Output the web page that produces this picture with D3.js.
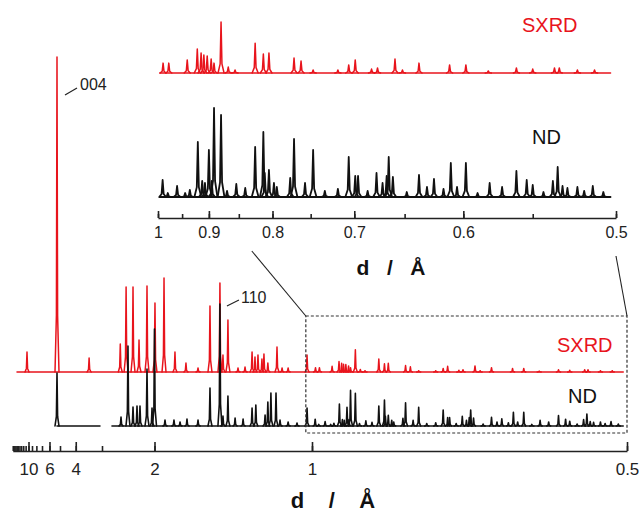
<!DOCTYPE html>
<html>
<head>
<meta charset="utf-8">
<script src="https://cdn.jsdelivr.net/npm/d3@7"></script>
<style>
  body { margin: 0; background: #fff; }
  text { font-family: "Liberation Sans", Arial, sans-serif; }
</style>
</head>
<body>
<svg width="639" height="516"></svg>
<script>
// peak positions (d, in Å) and heights (arbitrary units)
var sxrdPeakD = [10.5, 5.25, 3.42, 2.555, 2.44, 2.316, 2.218, 2.1, 1.994, 1.886, 1.77, 1.667, 1.567,
  1.479, 1.413, 1.394, 1.364, 1.307, 1.27, 1.235, 1.221, 1.207, 1.189, 1.18, 1.163, 1.125, 1.105, 1.082, 1.016,
  0.989, 0.977, 0.940, 0.921, 0.914, 0.909, 0.903, 0.896, 0.891, 0.879, 0.867, 0.856, 0.825, 0.813, 0.805,
  0.771, 0.762, 0.747, 0.718, 0.706, 0.699, 0.682, 0.676, 0.659, 0.652, 0.637, 0.611, 0.598, 0.581, 0.561,
  0.550, 0.536, 0.533, 0.522, 0.512];
var sxrdPeakI = [20, 315, 14, 28, 85, 85, 32, 86, 69, 94, 20, 9, 4,
  66, 89, 17, 52, 4, 5, 20, 15, 17, 13, 18, 9, 25, 4, 4, 17,
  4.3, 4.3, 5.7, 10.4, 8.7, 7.8, 7.4, 6.1, 4.3, 22.2, 2.6, 1.3, 13, 8.3, 8.7,
  6.5, 5.2, 1.3, 1.3, 3.5, 5.7, 1.7, 2.2, 6.1, 1.3, 4.3, 3.5, 3.5, 0.9, 2.2,
  1.7, 2.2, 2.2, 1.3, 1.3];

var ndPeakD = [5.25, 2.54, 2.405, 2.316, 2.25, 2.203, 2.1, 2.032, 2.0, 1.875, 1.78, 1.721, 1.658, 1.567,
  1.479, 1.413, 1.394, 1.364, 1.323, 1.28, 1.235, 1.217, 1.175, 1.163, 1.15, 1.129, 1.113, 1.082, 1.05, 1.016,
  0.990, 0.979, 0.960, 0.944, 0.935, 0.920, 0.912, 0.907, 0.900, 0.895, 0.891, 0.879, 0.869, 0.854, 0.840,
  0.825, 0.813, 0.811, 0.805, 0.798, 0.794, 0.776, 0.771, 0.757, 0.747, 0.733, 0.718, 0.706, 0.699, 0.696,
  0.686, 0.677, 0.671, 0.667, 0.665, 0.661, 0.648, 0.637, 0.630, 0.624, 0.616, 0.610, 0.605, 0.598, 0.589,
  0.580, 0.571, 0.561, 0.554, 0.550, 0.543, 0.537, 0.534, 0.531, 0.528, 0.522, 0.518, 0.513, 0.507, 0.502];
var ndPeakI = [53, 9, 80, 19, 20, 20, 57, 18, 97, 6, 6, 4, 7, 6,
  38, 122, 10, 30, 8, 7, 18, 21, 11, 24, 33, 33, 6, 4, 3, 18,
  6.8, 1.6, 4.4, 1.6, 2.8, 22, 6.4, 5.6, 18.8, 6.4, 35.6, 32.8, 2.4, 5.2, 3.6,
  20, 26, 9.6, 10.8, 5.6, 4, 7.6, 23.2, 5.6, 18.8, 2.4, 3.2, 16, 8.4, 8.4,
  2.4, 9.6, 5.6, 8.4, 16, 8, 2, 8.8, 4, 7.2, 3.2, 13.6, 4, 13.6, 1.6,
  5.6, 4, 10.4, 6.8, 4.8, 2, 6.4, 12, 4.4, 3.6, 4, 2.4, 4.4, 2, 2.4];

// measured d ranges of each pattern
var sxrdRange = [[15.75, 0.503]];
var ndRanges = [[5.25, 3.06], [2.74, 0.503]];
var insetRange = [[0.996, 0.503]];

var mainTicks = [20, 19, 18, 17, 16, 15, 14, 13, 12, 11, 10, 9, 8, 7, 6, 5, 4, 3, 2, 1, 0.5];
var mainLabels = [10, 6, 4, 2, 1, 0.5];
var insetTicks = [1, 0.95, 0.9, 0.85, 0.8, 0.75, 0.7, 0.65, 0.6, 0.55, 0.5];
var insetLabels = [1, 0.9, 0.8, 0.7, 0.6, 0.5];

var red = "#e8141c", black = "#111";

var svg = d3.select("svg");

// both axes are linear in 1/d
var xm = d3.scaleLinear().domain([0.05, 2]).range([12.75, 627]);
var xi = d3.scaleLinear().domain([1, 2]).range([158, 616]);
var Xm = function(d) { return xm(1 / d); };
var Xi = function(d) { return xi(1 / d); };

var ySxMain = d3.scaleLinear().domain([0, 315]).range([372, 57]);
var yNdMain = d3.scaleLinear().domain([0, 122]).range([426, 304]);
var ySxInset = d3.scaleLinear().domain([0, 22.2]).range([73, 22]);
var yNdInset = d3.scaleLinear().domain([0, 35.6]).range([197, 108]);

var line = d3.line();

// hw = half width of a peak at its foot, in px
function trace(X, y, D, I, ranges, hw, color, sw) {
  var g = svg.append("g")
    .attr("fill", "none")
    .attr("stroke", color)
    .attr("stroke-width", sw)
    .attr("stroke-linejoin", "round")
    .attr("stroke-linecap", "round");
  ranges.forEach(function(r) {
    g.append("path").attr("d", line([[X(r[0]), y(0)], [X(r[1]), y(0)]]));
  });
  D.forEach(function(d, i) {
    var inside = ranges.some(function(r) { return d <= r[0] && d >= r[1]; });
    if (!inside) return;
    var x = X(d), b = y(0), t = y(I[i]), s = b + (t - b) * 0.18;
    g.append("path").attr("d", line([[x - hw, b], [x - hw * 0.3, s], [x, t], [x + hw * 0.3, s], [x + hw, b]]));
  });
}

// main panel
trace(Xm, ySxMain, sxrdPeakD, sxrdPeakI, sxrdRange, 2, red, 1.5);
trace(Xm, yNdMain, ndPeakD, ndPeakI, ndRanges, 2, black, 1.6);

// inset
trace(Xi, ySxInset, sxrdPeakD, sxrdPeakI, insetRange, 3, red, 1.5);
trace(Xi, yNdInset, ndPeakD, ndPeakI, insetRange, 3.4, black, 1.8);

function fmt(v) { return String(Math.round(v * 100) / 100); }

function axis(scale, y, ticks, labels, major, minor, fs, pad) {
  var g = svg.append("g").attr("transform", "translate(0," + y + ")");
  g.append("g").call(d3.axisBottom(scale)
      .tickValues(ticks.map(function(d) { return 1 / d; }))
      .tickSizeInner(-minor).tickSizeOuter(0).tickFormat(""))
    .call(function(a) { a.selectAll("line,path").attr("stroke", "#222").attr("stroke-width", 1.6); });
  g.append("g").call(d3.axisBottom(scale)
      .tickValues(labels.map(function(d) { return 1 / d; }))
      .tickSizeInner(-major).tickSizeOuter(0).tickPadding(pad)
      .tickFormat(function(v) { return fmt(1 / v); }))
    .call(function(a) {
      a.select(".domain").remove();
      a.selectAll("line").attr("stroke", "#222").attr("stroke-width", 1.6);
      a.selectAll("text").attr("fill", "#222").style("font-size", fs + "px")
        .style("font-family", "'Liberation Sans', Arial, sans-serif");
    });
}

axis(xm, 451, mainTicks, mainLabels, 9, 5, 17, 12);
axis(xi, 218, insetTicks, insetLabels, 7, 4, 16, 9);

// axis titles
svg.append("text").attr("x", 333).attr("y", 508).attr("text-anchor", "middle")
  .style("font-size", "22px").style("font-weight", "bold").style("white-space", "pre")
  .attr("fill", "#111").text("d    /    Å");
svg.append("text").attr("x", 391).attr("y", 275).attr("text-anchor", "middle")
  .style("font-size", "21px").style("font-weight", "bold").style("white-space", "pre")
  .attr("fill", "#111").text("d   /   Å");

// zoom box and connectors
var boxL = Xm(1.02), boxR = Xm(0.5), boxT = 316, boxB = 433;
svg.append("rect")
  .attr("x", boxL).attr("y", boxT).attr("width", boxR - boxL).attr("height", boxB - boxT)
  .attr("fill", "none").attr("stroke", "#333").attr("stroke-width", 1.2)
  .attr("stroke-dasharray", "3,2");
svg.append("path").attr("d", line([[boxL, boxT], [Xi(0.83), 251]]))
  .attr("stroke", "#222").attr("stroke-width", 1.1);
svg.append("path").attr("d", line([[boxR, boxT], [Xi(0.5), 256]]))
  .attr("stroke", "#222").attr("stroke-width", 1.1);

// series labels
function label(x, y, t, c) {
  svg.append("text").attr("x", x).attr("y", y).attr("fill", c)
    .style("font-size", "20px").text(t);
}
label(557, 352, "SXRD", red);
label(568, 403, "ND", black);
label(522, 32, "SXRD", red);
label(532, 144, "ND", black);

// reflection labels
svg.append("path").attr("d", line([[Xm(5.25) + 8, 95], [Xm(5.25) + 20, 88]]))
  .attr("stroke", "#222").attr("stroke-width", 1.2);
svg.append("text").attr("x", 80).attr("y", 90).style("font-size", "16px").attr("fill", "#222").text("004");
svg.append("path").attr("d", line([[Xm(1.413) + 7, 306], [Xm(1.413) + 19, 300]]))
  .attr("stroke", "#222").attr("stroke-width", 1.2);
svg.append("text").attr("x", 241).attr("y", 303).style("font-size", "16px").attr("fill", "#222").text("110");
</script>
</body>
</html>
